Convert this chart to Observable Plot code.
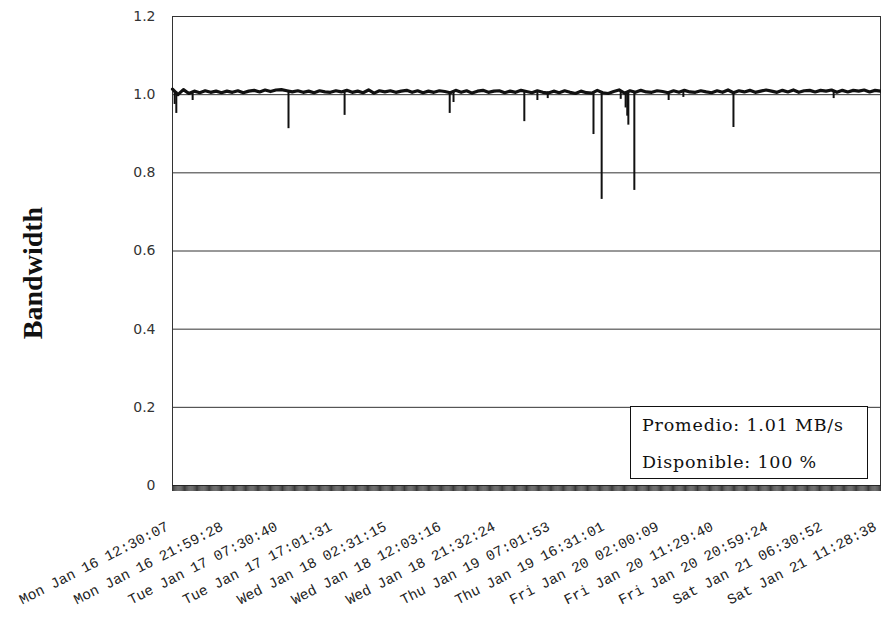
<!DOCTYPE html>
<html>
<head>
<meta charset="utf-8">
<script src="https://cdn.jsdelivr.net/npm/d3@7"></script>
<script src="https://cdn.jsdelivr.net/npm/@observablehq/plot@0.6"></script>
<style>
  html, body { margin: 0; padding: 0; background: #fff; }
  #wrap { position: relative; width: 881px; height: 622px; overflow: hidden; }
  #legend {
    position: absolute; left: 630px; top: 406px; width: 225px; height: 71px;
    border: 1.5px solid #111; background: #fff;
    font-family: "DejaVu Serif", serif; font-size: 17.5px; color: #111;
    letter-spacing: 0.8px;
    box-sizing: content-box; padding: 0 0 0 11px; line-height: 37px;
  }
</style>
</head>
<body>
<div id="wrap"></div>
<script>
// Tick labels on the x axis (one every 100 samples)
const tickLabels = [
  "Mon Jan 16 12:30:07", "Mon Jan 16 21:59:28", "Tue Jan 17 07:30:40",
  "Tue Jan 17 17:01:31", "Wed Jan 18 02:31:15", "Wed Jan 18 12:03:16",
  "Wed Jan 18 21:32:24", "Thu Jan 19 07:01:53", "Thu Jan 19 16:31:01",
  "Fri Jan 20 02:00:09", "Fri Jan 20 11:29:40", "Fri Jan 20 20:59:24",
  "Sat Jan 21 06:30:52", "Sat Jan 21 11:28:38"
];
const tickSamples = [0, 100, 200, 300, 400, 500, 600, 700, 800, 900, 1000, 1100, 1200, 1300];

// Baseline bandwidth readings, one every 10 samples (0..1300)
const baseline = [
  1.014, 1.000, 1.013, 1.003, 1.009, 1.005, 1.010, 1.006, 1.009, 1.005,
  1.009, 1.006, 1.010, 1.005, 1.009, 1.011, 1.007, 1.012, 1.008, 1.012,
  1.013, 1.010, 1.007, 1.010, 1.006, 1.009, 1.005, 1.010, 1.007, 1.006,
  1.010, 1.007, 1.011, 1.006, 1.009, 1.005, 1.012, 1.004, 1.010, 1.007,
  1.010, 1.006, 1.009, 1.011, 1.006, 1.010, 1.005, 1.009, 1.006, 1.010,
  1.008, 1.005, 1.011, 1.006, 1.010, 1.004, 1.009, 1.011, 1.006, 1.009,
  1.010, 1.005, 1.009, 1.006, 1.011, 1.008, 1.005, 1.010, 1.006, 1.004,
  1.009, 1.005, 1.010, 1.006, 1.003, 1.009, 1.005, 1.004, 1.011, 1.005,
  1.003, 1.008, 1.012, 1.004, 1.010, 1.006, 1.011, 1.007, 1.006, 1.010,
  1.008, 1.005, 1.010, 1.006, 1.011, 1.007, 1.006, 1.010, 1.007, 1.005,
  1.010, 1.006, 1.012, 1.005, 1.010, 1.007, 1.011, 1.006, 1.009, 1.012,
  1.009, 1.006, 1.011, 1.007, 1.012, 1.006, 1.010, 1.011, 1.007, 1.011,
  1.009, 1.012, 1.006, 1.011, 1.007, 1.011, 1.009, 1.012, 1.007, 1.011,
  1.009
];
const baselineStep = 10;

// Short drops in bandwidth: sample index and lowest value
const dipSamples = [4, 7, 37, 213, 316, 509, 516, 646, 670, 689, 773, 788, 823, 832, 835, 837, 848, 911, 938, 1030, 1214];
const dipValues  = [0.975, 0.952, 0.985, 0.913, 0.947, 0.952, 0.980, 0.931, 0.985, 0.990, 0.898, 0.732, 0.988, 0.966, 0.945, 0.922, 0.755, 0.985, 0.993, 0.916, 0.990];
const dipTop = 1.007;

const yTicks = [0, 0.2, 0.4, 0.6, 0.8, 1.0, 1.2];
const legendLines = ["Promedio: 1.01 MB/s", "Disponible: 100 %"];

const series = baseline.map((v, i) => ({t: i * baselineStep, v}));
const dips = dipSamples.map((t, i) => ({t, v: dipValues[i]}));

const chart = Plot.plot({
  width: 881,
  height: 622,
  marginLeft: 172,
  marginRight: 1,
  marginTop: 16,
  marginBottom: 137,
  style: {background: "#fff", overflow: "visible"},
  x: {type: "linear", domain: [0, 1300]},
  y: {domain: [0, 1.2]},
  marks: [
    Plot.gridY(yTicks, {stroke: "#333", strokeOpacity: 1, strokeWidth: 1}),
    Plot.frame({stroke: "#333", strokeWidth: 1}),
    Plot.axisY(yTicks, {
      tickSize: 0, tickPadding: 17, fontSize: 14, fill: "#333",
      fontFamily: "DejaVu Sans, sans-serif",
      tickFormat: d => d === 0 ? "0" : d.toFixed(1), label: null
    }),
    Plot.axisX(d3.range(0, 1301, 2), {
      tickSize: 6, stroke: "#222", strokeWidth: 0.9, tickFormat: () => "", label: null
    }),
    Plot.axisX(tickSamples, {
      tickSize: 0, tickPadding: 40, tickRotate: -27, fontSize: 14.5, dx: -5,
      fontFamily: "Liberation Mono, monospace", fill: "#222",
      tickFormat: d => tickLabels[tickSamples.indexOf(d)], label: null
    }),
    Plot.ruleX(dips, {x: "t", y1: dipTop, y2: "v", stroke: "#111", strokeWidth: 2}),
    Plot.line(series, {x: "t", y: "v", stroke: "#111", strokeWidth: 3.2}),
    Plot.text(["Bandwidth"], {
      frameAnchor: "left", dx: -139, dy: 22, rotate: -90, textAnchor: "middle",
      fontSize: 28, fontWeight: "bold", fontFamily: "Liberation Serif, serif", fill: "#111"
    })
  ]
});

const wrap = document.getElementById("wrap");
wrap.appendChild(chart);
const legend = document.createElement("div");
legend.id = "legend";
legend.innerHTML = legendLines.map(s => `<div>${s}</div>`).join("");
wrap.appendChild(legend);
</script>
</body>
</html>
